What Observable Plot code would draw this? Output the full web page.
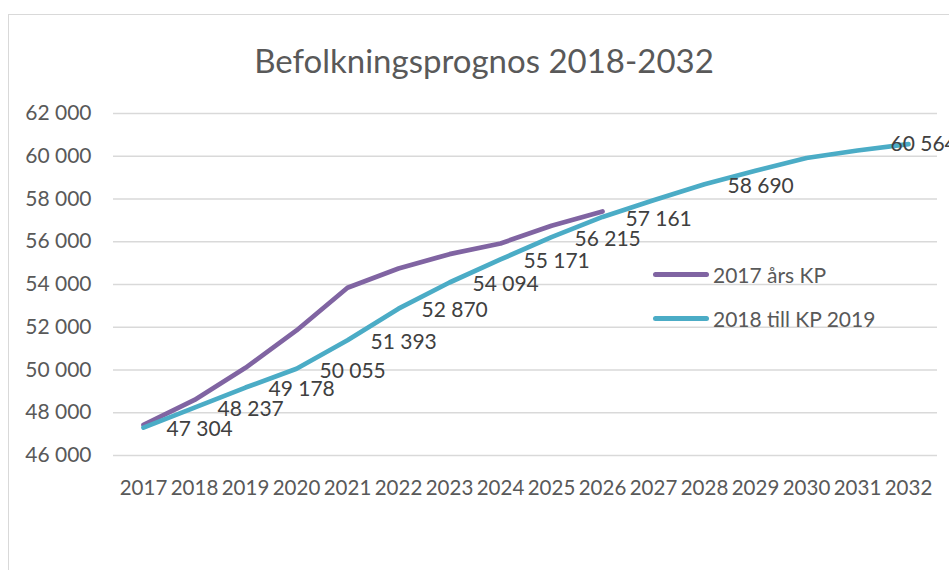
<!DOCTYPE html>
<html>
<head>
<meta charset="utf-8">
<script src="https://cdn.jsdelivr.net/npm/d3@7"></script>
<script src="https://cdn.jsdelivr.net/npm/@observablehq/plot@0.6"></script>
<style>
  html, body { margin: 0; padding: 0; background: #fff; }
  #wrap { position: relative; width: 949px; height: 570px; overflow: hidden; font-family: Lato, "Open Sans", sans-serif; }
  #frame { position: absolute; left: 8px; top: 14px; width: 980px; height: 600px; border: 1.5px solid #d9d9d9; box-sizing: border-box; }
  #title { position: absolute; left: 8px; width: 952px; top: 38px; text-align: center; font-size: 33px; line-height: 44px; color: #595959; }
  #chart { position: absolute; left: 0; top: 90px; }
  .leg { position: absolute; left: 653px; height: 24px; display: flex; align-items: center; font-size: 21px; color: #595959; white-space: nowrap; }
  .leg .sw { display: inline-block; width: 56px; height: 5px; border-radius: 3px; margin-right: 4px; }
</style>
</head>
<body>
<div id="wrap">
  <div id="frame"></div>
  <div id="title"></div>
  <div id="chart"></div>
  <div id="legend"></div>
</div>
<script>
const title = "Befolkningsprognos 2018-2032";
const years = [2017, 2018, 2019, 2020, 2021, 2022, 2023, 2024, 2025, 2026, 2027, 2028, 2029, 2030, 2031, 2032];
const seriesNames = ["2017 års KP", "2018 till KP 2019"];
const seriesColors = ["#8064A2", "#4BACC6"];
// 2017 års KP (2017–2026)
const kp2017 = [47430, 48600, 50100, 51850, 53850, 54750, 55420, 55920, 56750, 57420];
// 2018 till KP 2019 (2017–2032)
const kp2018 = [47304, 48237, 49178, 50055, 51393, 52870, 54094, 55171, 56215, 57161, 57940, 58690, 59320, 59920, 60270, 60564];
const labelYears = [2017, 2018, 2019, 2020, 2021, 2022, 2023, 2024, 2025, 2026, 2028];
const endLabelYears = [2032];
const yTicks = [46000, 48000, 50000, 52000, 54000, 56000, 58000, 60000, 62000];

const fmt = d => d3.format(",")(d).replace(/,/g, " ");

const rows = [];
kp2017.forEach((v, i) => rows.push({year: years[i], value: v, series: seriesNames[0]}));
kp2018.forEach((v, i) => rows.push({year: years[i], value: v, series: seriesNames[1]}));
const cyan = rows.filter(d => d.series === seriesNames[1]);

document.getElementById("title").textContent = title;

const chart = Plot.plot({
  width: 949,
  height: 480,
  marginLeft: 113,
  marginRight: 12,
  marginTop: 23,
  marginBottom: 115,
  style: {fontFamily: "Lato, 'Open Sans', sans-serif", fontSize: "21px", color: "#595959", background: "transparent", overflow: "visible"},
  x: {type: "point", domain: years, padding: 0.5, label: null},
  y: {domain: [46000, 62000], label: null},
  color: {domain: seriesNames, range: seriesColors},
  marks: [
    Plot.gridY(yTicks, {stroke: "#d9d9d9", strokeOpacity: 1, strokeWidth: 1.5}),
    Plot.axisY(yTicks, {tickSize: 0, tickPadding: 22, tickFormat: fmt, fill: "#595959", fontSize: 21, label: null}),
    Plot.axisX({tickSize: 0, tickPadding: 25, tickFormat: d => String(d), fill: "#595959", fontSize: 20.5, label: null}),
    Plot.line(rows, {x: "year", y: "value", z: "series", stroke: "series", strokeWidth: 4.7, strokeLinecap: "round", strokeLinejoin: "round"}),
    Plot.text(cyan.filter(d => labelYears.includes(d.year)), {x: "year", y: "value", text: d => fmt(d.value), textAnchor: "start", dx: 23, dy: 2, fill: "#404040", fontSize: 21}),
    Plot.text(cyan.filter(d => endLabelYears.includes(d.year)), {x: "year", y: "value", text: d => fmt(d.value), textAnchor: "start", dx: -18, dy: 0, fill: "#404040", fontSize: 21})
  ]
});
document.getElementById("chart").appendChild(chart);

const legend = document.getElementById("legend");
const legTops = [262, 306];
seriesNames.forEach((name, i) => {
  const row = document.createElement("div");
  row.className = "leg";
  row.style.top = legTops[i] + "px";
  const sw = document.createElement("span");
  sw.className = "sw";
  sw.style.background = seriesColors[i];
  row.appendChild(sw);
  row.appendChild(document.createTextNode(name));
  legend.appendChild(row);
});
</script>
</body>
</html>
